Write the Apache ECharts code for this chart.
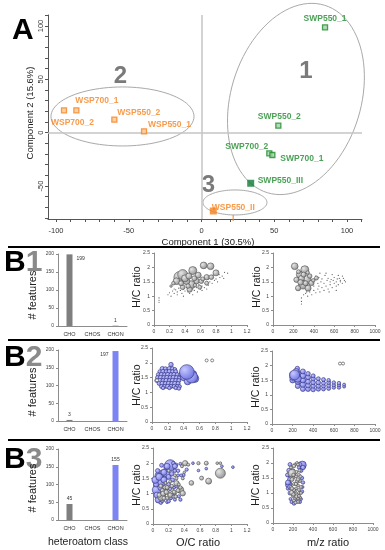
<!DOCTYPE html>
<html><head><meta charset="utf-8">
<script src="https://cdn.jsdelivr.net/npm/echarts@6/dist/echarts.min.js"></script>
<style>html,body{margin:0;padding:0;background:#fff}#c{width:385px;height:550px}</style>
</head><body><div id="c"></div>
<script>
// ================= DATA =================
// Panel A: PCA scores
const pcaNames = ['SWP550_1','SWP550_2','SWP700_2','SWP700_1','SWP550_III','WSP700_2','WSP700_1','WSP550_2','WSP550_1','WSP550_III'];
const pcaPC1 = [84.9, 52.8, 46.6, 48.7, 33.8, -94.5, -86.0, -59.9, -39.5, 8.1];
const pcaPC2 = [98.7, 6.6, -19.3, -20.9, -47.4, 21.0, 21.0, 12.2, 1.3, -73.4];
const pcaGroup = ['SWP','SWP','SWP','SWP','SWP','WSP','WSP','WSP','WSP','WSP'];
const pcaXLabels = [-100, -50, 0, 50, 100];
const pcaYLabels = [-50, 0, 50, 100];
const pcaXTicks = [-100,-90,-80,-70,-60,-50,-40,-30,-20,-10,0,10,20,30,40,50,60,70,80,90,100,110];
const pcaYTicks = [-80,-70,-60,-50,-40,-30,-20,-10,0,10,20,30,40,50,60,70,80,90,100,110];
const clusterIds = ['1', '2', '3'];
const clusterCenters = [[64.9, 31.6], [-54.3, 15.2], [23.0, -65.4]];

// Panel B: heteroatom class counts
const barCats = ['CHO', 'CHOS', 'CHON'];
const b1Counts = [199, 0, 1];
const b2Counts = [3, 0, 197];
const b3Counts = [45, 0, 155];

// B1: CHO features (grey bubbles [x, H/C, intensity]) + minor features (dots)
const b1OcGrey = [[0.33,1.66,113],[0.37,1.75,100],[0.50,1.89,80],[0.64,2.07,67],[0.73,2.04,67],[0.80,1.81,60],[0.68,1.66,53],[0.57,1.73,60],[0.48,1.40,80],[0.42,1.52,67],[0.55,1.52,53],[0.61,1.52,47],[0.74,1.66,47],[0.46,1.23,53],[0.29,1.52,67],[0.37,1.31,47],[0.59,1.31,40],[0.68,1.45,40],[0.40,1.62,70],[0.45,1.70,60],[0.52,1.62,50],[0.35,1.45,50],[0.25,1.45,35],[0.22,1.35,25],[0.63,1.60,40],[0.53,1.38,35],[0.44,1.35,45]];
const b1OcDots = [[0.065,0.94],[0.065,0.86],[0.065,0.79],[0.18,1.05],[0.2,1.12],[0.22,1.0],[0.24,1.18],[0.26,1.1],[0.28,1.22],[0.3,1.15],[0.32,1.28],[0.3,1.05],[0.34,1.2],[0.36,1.1],[0.38,1.25],[0.4,1.18],[0.42,1.3],[0.44,1.15],[0.46,1.1],[0.5,1.25],[0.52,1.2],[0.55,1.3],[0.58,1.4],[0.56,1.15],[0.6,1.25],[0.62,1.35],[0.65,1.3],[0.66,1.45],[0.7,1.38],[0.72,1.5],[0.75,1.45],[0.78,1.55],[0.8,1.6],[0.82,1.5],[0.85,1.65],[0.88,1.7],[0.91,1.83],[0.95,1.8],[0.7,1.6],[0.76,1.72],[0.84,1.75],[0.5,1.05],[0.38,1.0],[0.26,1.25],[0.62,1.2],[0.68,1.25],[0.9,1.62]];
const b1MzGrey = [[213,2.04,67],[312,1.92,80],[262,1.75,67],[328,1.57,93],[295,1.40,87],[246,1.28,53],[377,1.46,53],[344,1.28,60],[426,1.63,40],[230,1.57,53],[280,1.62,60],[300,1.75,50],[360,1.70,45],[270,1.48,55],[320,1.45,50],[395,1.55,35],[250,1.85,40],[340,1.82,35]];
const b1MzDots = [[279,0.94],[279,0.82],[279,0.73],[300,1.05],[320,1.1],[340,1.0],[360,1.15],[380,1.05],[400,1.2],[420,1.12],[440,1.25],[460,1.15],[480,1.3],[500,1.2],[520,1.35],[540,1.25],[560,1.4],[580,1.3],[600,1.45],[620,1.35],[640,1.4],[660,1.5],[680,1.45],[700,1.55],[420,1.7],[450,1.65],[480,1.6],[510,1.72],[540,1.62],[570,1.58],[600,1.65],[630,1.6],[660,1.55],[690,1.62],[470,1.5],[500,1.45],[530,1.55],[560,1.5],[590,1.55],[620,1.5],[650,1.62],[680,1.7],[710,1.5],[440,1.45],[460,1.8],[520,1.8],[580,1.75],[640,1.72],[400,1.35],[360,1.3],[450,1.35],[550,1.15],[620,1.2],[330,1.15]];

// B2: CHON features (blue) + CHO (grey open)
const b2OcBlue = [[0.24,1.94,45],[0.13,1.80,45],[0.17,1.80,40],[0.22,1.80,45],[0.26,1.80,40],[0.29,1.78,35],[0.10,1.70,40],[0.14,1.70,45],[0.18,1.70,40],[0.22,1.70,45],[0.26,1.70,40],[0.30,1.70,40],[0.08,1.60,40],[0.12,1.60,45],[0.16,1.60,40],[0.20,1.60,45],[0.24,1.60,40],[0.28,1.60,45],[0.32,1.60,40],[0.07,1.50,40],[0.11,1.50,45],[0.15,1.50,40],[0.19,1.50,45],[0.23,1.50,40],[0.27,1.50,45],[0.31,1.50,40],[0.35,1.50,40],[0.06,1.40,40],[0.10,1.40,45],[0.14,1.40,40],[0.18,1.40,45],[0.22,1.40,40],[0.26,1.40,45],[0.30,1.40,40],[0.34,1.40,40],[0.09,1.30,40],[0.13,1.30,45],[0.17,1.30,40],[0.21,1.30,45],[0.25,1.30,40],[0.29,1.30,45],[0.33,1.30,40],[0.12,1.20,40],[0.16,1.20,40],[0.20,1.20,45],[0.24,1.20,40],[0.28,1.20,40],[0.32,1.20,40],[0.35,1.20,35],[0.14,1.15,35],[0.22,1.15,35],[0.30,1.15,35],[0.34,1.13,35],[0.38,1.60,60],[0.41,1.52,80],[0.45,1.37,67],[0.52,1.62,70],[0.54,1.47,80],[0.50,1.52,120],[0.44,1.69,147]];
const b2OcGrey = [[0.69,2.08,30],[0.76,2.08,30],[0.063,1.41,30]];
const b2MzBlue = [[700,1.28,30],[700,1.35,30],[650,1.25,35],[650,1.33,35],[650,1.40,35],[600,1.25,35],[600,1.33,35],[600,1.42,35],[550,1.22,40],[550,1.32,40],[550,1.42,40],[550,1.50,35],[500,1.20,40],[500,1.30,40],[500,1.40,40],[500,1.52,40],[450,1.20,45],[450,1.30,45],[450,1.42,45],[450,1.55,40],[400,1.18,45],[400,1.30,45],[400,1.42,45],[400,1.55,45],[400,1.65,40],[350,1.20,50],[350,1.32,50],[350,1.45,50],[350,1.60,50],[350,1.72,45],[300,1.20,50],[300,1.35,55],[300,1.50,55],[300,1.65,55],[300,1.80,50],[250,1.30,50],[250,1.45,55],[250,1.60,60],[250,1.75,55],[246,1.90,45],[200,1.50,55],[200,1.60,60],[200,1.70,60],[235,1.80,60],[250,1.55,70],[220,1.68,100]];
const b2MzGrey = [[660,2.07,30],[690,2.07,30]];

// B3: CHON (blue) and CHO (grey)
const b3OcBlue = [[0.22,1.93,113],[0.09,1.39,120],[0.05,1.12,93],[0.18,1.61,80],[0.07,0.80,67],[0.11,1.93,40],[1.02,1.87,27],[0.88,1.90,27],[0.68,1.82,27],[0.58,1.76,27],[0.43,1.79,33],[0.39,1.61,33],[0.35,0.80,33],[0.33,0.91,33],[0.51,2.0,27],[0.12,1.7,50],[0.15,1.5,45],[0.06,1.6,55],[0.2,1.3,40],[0.25,1.45,40],[0.28,1.75,35],[0.3,1.95,30],[0.35,1.98,30],[0.26,2.0,35],[0.14,1.05,45],[0.1,0.7,35],[0.18,0.72,30],[0.22,1.15,35],[0.27,1.2,30],[0.32,1.6,30],[0.16,1.85,35],[0.04,1.3,50],[0.13,0.95,40],[0.23,0.85,30],[0.03,1.45,70],[0.08,1.55,70],[0.14,1.45,60],[0.1,1.2,60],[0.16,1.15,50],[0.05,0.95,60],[0.12,0.78,45],[0.2,1.55,50],[0.24,1.65,45],[0.18,1.9,60],[0.28,1.9,50],[0.14,1.7,60],[0.32,1.75,35],[0.36,1.6,30],[0.3,1.25,35],[0.25,0.95,35],[0.2,0.75,35],[0.28,0.8,30],[0.06,1.75,45]];
const b3OcGrey = [[0.41,2.0,53],[0.86,1.67,100],[0.71,1.41,60],[0.62,1.51,40],[0.49,1.35,47],[0.35,1.12,67],[0.38,1.01,53],[0.30,1.34,53],[0.58,2.0,33],[0.68,2.0,40],[0.82,2.0,27],[0.86,2.0,27],[0.11,0.9,80],[0.15,1.2,40],[0.2,1.0,40],[0.25,1.1,35],[0.18,0.85,35],[0.12,1.1,40],[0.08,0.95,45],[0.28,1.0,30],[0.22,1.4,30],[0.3,1.5,30],[0.33,1.3,30],[0.2,1.75,30],[0.37,1.9,30],[0.45,1.95,30],[0.26,0.9,30],[0.16,1.35,30],[0.13,1.0,50],[0.17,1.05,45],[0.22,0.95,45],[0.27,1.05,40],[0.32,1.1,40],[0.1,1.25,40],[0.14,0.85,40],[0.24,1.25,35],[0.18,1.2,40],[0.29,0.9,35],[0.35,1.2,35],[0.38,1.5,30],[0.4,1.7,25],[0.28,1.6,30]];
const b3MzBlue = [[293,1.93,80],[158,1.28,67],[170,1.95,40],[160,1.6,45],[280,1.75,40],[290,1.5,35],[290,1.05,35],[210,0.65,35],[170,1.0,40],[165,1.45,40],[200,1.75,35],[280,0.8,30],[270,1.95,40],[150,1.15,35],[230,0.72,30],[260,1.85,35],[175,0.8,30],[150,1.35,50],[160,1.75,45],[170,1.2,45],[145,1.6,40],[300,1.85,45],[300,1.35,35],[295,1.2,30],[185,0.7,30],[270,0.7,30]];
const b3MzGrey = [[192,1.66,80],[192,1.01,53],[242,1.39,40],[200,0.9,30],[220,0.8,30],[240,0.95,30],[260,1.1,30],[230,1.15,30],[210,1.3,30],[250,1.25,30],[270,0.85,30],[200,1.5,30],[230,1.55,30],[260,1.6,30],[180,1.85,30],[220,1.95,30],[240,2.0,30],[280,1.2,30],[210,0.75,30],[250,0.7,30],[180,1.2,30],[270,1.4,30],[220,1.05,30],[250,0.82,30],[260,1.0,30],[235,1.7,30],[190,1.45,40],[210,1.1,35],[230,1.3,35],[250,1.45,35],[275,1.55,30],[190,1.15,35],[205,0.95,35],[235,0.88,35],[260,0.9,30],[280,1.0,30],[210,1.9,35],[205,1.6,35],[265,1.75,30],[250,1.95,30],[225,0.68,30]];

// ================= STYLE / LAYOUT =================
const FONT = '"Liberation Sans", Arial, sans-serif';
const ORANGE = '#F5821F', GREEN = '#1E8B2C', GREENDARK = '#0F7A34';
const GREY_BAR = '#7f7f7f', BLUE_BAR = '#7C84F3';
const labelStyleMap = {
  'SWP550_1': {dx:0, dy:-9, align:'center'},
  'SWP550_2': {dx:1, dy:-9, align:'center'},
  'SWP700_2': {dx:-1, dy:-7, align:'right'},
  'SWP700_1': {dx:8, dy:4, align:'left'},
  'SWP550_III': {dx:7, dy:-3, align:'left'},
  'WSP700_2': {dx:8.5, dy:12, align:'center'},
  'WSP700_1': {dx:-1, dy:-10, align:'left'},
  'WSP550_2': {dx:3, dy:-7, align:'left'},
  'WSP550_1': {dx:4, dy:-7, align:'left'},
  'WSP550_III': {dx:20, dy:2, align:'center', wrapAt:9}
};
const ellipseShapes = [ {rx:65, ry:98, rot:17}, {rx:71.5, ry:29.5, rot:0}, {rx:32, ry:12.5, rot:0} ];

const grids = [
  {left:48, top:15, width:314, height:204},     // A
  {left:58, top:254, width:69, height:72},      // B1 bar
  {left:58, top:350, width:69, height:71},      // B2 bar
  {left:58, top:449, width:69, height:71},      // B3 bar
  {left:154, top:253, width:93, height:72},     // B1 OC
  {left:273, top:253, width:102, height:72},    // B1 MZ
  {left:152, top:348, width:95, height:74},     // B2 OC
  {left:272, top:351, width:103, height:73},    // B2 MZ
  {left:153, top:448, width:94, height:76},     // B3 OC
  {left:273, top:448, width:100, height:75}     // B3 MZ
].map(g => Object.assign({outerBoundsMode:'none', containLabel:false}, g));

const smallAxisCommon = {
  axisLine:{show:true, onZero:false, lineStyle:{color:'#8c8c8c', width:1}},
  axisTick:{show:true, length:2, lineStyle:{color:'#8c8c8c'}},
  splitLine:{show:false},
  axisLabel:{fontSize:5, color:'#444', fontFamily:FONT, margin:4, formatter: v => String(v)}
};
function vAxis(gi, min, max, interval){
  const a = Object.assign({type:'value', gridIndex:gi, min, max, interval}, smallAxisCommon);
  a.axisLabel = Object.assign({}, smallAxisCommon.axisLabel);
  return a;
}

const xAxes = [
  {type:'value', gridIndex:0, min:-105.5, max:110.3,
   axisLine:{show:true, onZero:false, lineStyle:{color:'#555'}},
   axisTick:{show:true, length:3, customValues:pcaXTicks, lineStyle:{color:'#555'}},
   axisLabel:{customValues:pcaXLabels, fontSize:7.5, color:'#333', fontFamily:FONT, margin:8},
   splitLine:{show:false}},
  ...[1,2,3].map(gi => ({type:'category', gridIndex:gi, data:barCats,
     axisLine:{show:true, lineStyle:{color:'#8c8c8c'}}, axisTick:{show:false},
     axisLabel:{fontSize:5.5, color:'#333', fontFamily:FONT, margin:5}})),
  vAxis(4, 0, 1.2, 0.2), vAxis(5, 0, 1000, 200),
  vAxis(6, 0, 1.2, 0.2), vAxis(7, 0, 1000, 200),
  vAxis(8, 0, 1.2, 0.2), vAxis(9, 0, 1000, 200)
];
const yAxes = [
  {type:'value', gridIndex:0, min:-80.9, max:110.3,
   axisLine:{show:true, onZero:false, lineStyle:{color:'#555'}},
   axisTick:{show:true, length:3, customValues:pcaYTicks, lineStyle:{color:'#555'}},
   axisLabel:{customValues:pcaYLabels, fontSize:7.5, color:'#333', fontFamily:FONT, margin:3, rotate:90},
   splitLine:{show:false}},
  vAxis(1, 0, 200, 50), vAxis(2, 0, 200, 50), vAxis(3, 0, 200, 50),
  vAxis(4, 0, 2.5, 0.5), vAxis(5, 0, 2.5, 0.5), vAxis(6, 0, 2.5, 0.5),
  vAxis(7, 0, 2.5, 0.5), vAxis(8, 0, 2.5, 0.5), vAxis(9, 0, 2.5, 0.5)
];

// ---- series
const series = [];
series.push({
  type:'custom', xAxisIndex:0, yAxisIndex:0, clip:false, silent:true, z:1,
  data: clusterCenters,
  renderItem(params, api){
    const e = ellipseShapes[params.dataIndex];
    const c = api.coord([api.value(0), api.value(1)]);
    const r = e.rot * Math.PI / 180, pts = [];
    for (let i = 0; i < 96; i++){
      const t = i / 96 * 2 * Math.PI;
      const x = e.rx * Math.cos(t), y = e.ry * Math.sin(t);
      pts.push([c[0] + x*Math.cos(r) - y*Math.sin(r), c[1] + x*Math.sin(r) + y*Math.cos(r)]);
    }
    return {type:'polygon', shape:{points:pts}, style:{fill:'none', stroke:'#a9a9a9', lineWidth:1}};
  }
});
series.push({
  type:'line', xAxisIndex:0, yAxisIndex:0, data:[], silent:true,
  markLine:{symbol:'none', silent:true, label:{show:false},
    lineStyle:{color:'#c4c4c4', width:1.5, type:'solid'},
    data:[{xAxis:0},{yAxis:0}]}
});
series.push({
  type:'scatter', xAxisIndex:0, yAxisIndex:0, z:5,
  data: pcaNames.map((n,i) => {
    const col = pcaGroup[i] === 'SWP' ? GREEN : ORANGE;
    const solid = /III$/.test(n);
    const ls = labelStyleMap[n];
    return {
      name:n, value:[pcaPC1[i], pcaPC2[i]],
      symbol:'rect', symbolSize: solid ? 7 : 5,
      itemStyle: solid ? {color: pcaGroup[i]==='SWP' ? GREENDARK : ORANGE}
                       : {color: pcaGroup[i]==='SWP' ? '#9fd3a5' : '#fcc58f', borderColor:col, borderWidth:1.3},
      label:{show:true, position:'inside', offset:[ls.dx, ls.dy], align:ls.align, verticalAlign:'middle',
        formatter: ls.wrapAt ? n.slice(0, ls.wrapAt) + '\n' + n.slice(ls.wrapAt) : n,
        color:col, fontSize:8.5, fontWeight:'bold', fontFamily:FONT, lineHeight:11}
    };
  })
});
function barSeries(gi, counts, labelCfg){
  return {
    type:'bar', xAxisIndex:gi, yAxisIndex:gi, barWidth:6,
    data: counts.map((v,i) => ({
      value:v,
      itemStyle:{color: i === 2 ? BLUE_BAR : GREY_BAR},
      label: v > 0 ? Object.assign({show:true, fontSize:5, color:'#333', fontFamily:FONT, distance:3}, labelCfg[i] || {position:'top'}) : {show:false}
    }))
  };
}
series.push(barSeries(1, b1Counts, {0:{position:[10,4.5], align:'left', verticalAlign:'middle'}}));
series.push(barSeries(2, b2Counts, {2:{position:[-4,4], align:'right', verticalAlign:'middle'}}));
series.push(barSeries(3, b3Counts, {}));

const greyFill = new echarts.graphic.RadialGradient(0.35, 0.35, 0.75, [{offset:0, color:'#e6e6e6'}, {offset:1, color:'#8a8a8a'}]);
const blueFill = new echarts.graphic.RadialGradient(0.35, 0.35, 0.75, [{offset:0, color:'#c6c8ff'}, {offset:1, color:'#6a6fe0'}]);
function bubbles(gi, data, kind){
  return {
    type:'scatter', xAxisIndex:gi, yAxisIndex:gi, data,
    symbolSize: d => d[2] / 10,
    itemStyle: kind === 'grey' ? {color:greyFill, borderColor:'#4d4d4d', borderWidth:0.6, opacity:1}
                               : {color:blueFill, borderColor:'#30307a', borderWidth:0.6, opacity:1}
  };
}
function openCircles(gi, data){
  return {type:'scatter', xAxisIndex:gi, yAxisIndex:gi, data, symbolSize: d => d[2]/10,
    itemStyle:{color:'#fff', borderColor:'#666', borderWidth:0.8, opacity:1}};
}
function dots(gi, data){
  return {type:'scatter', xAxisIndex:gi, yAxisIndex:gi, data, symbolSize:1.2,
    itemStyle:{color:'#555', opacity:1}};
}
series.push(dots(4, b1OcDots), bubbles(4, b1OcGrey, 'grey'));
series.push(dots(5, b1MzDots), bubbles(5, b1MzGrey, 'grey'));
series.push(bubbles(6, b2OcBlue, 'blue'), openCircles(6, b2OcGrey));
series.push(bubbles(7, b2MzBlue, 'blue'), openCircles(7, b2MzGrey));
series.push(bubbles(8, b3OcBlue, 'blue'), bubbles(8, b3OcGrey, 'grey'));
series.push(bubbles(9, b3MzBlue, 'blue'), bubbles(9, b3MzGrey, 'grey'));

// ---- graphic annotations & titles
function txt(text, x, y, size){
  return {type:'text', x, y, silent:true, z:100,
    style:{text, fontSize:size, fontFamily:FONT, fill:'#222', align:'center', verticalAlign:'middle'}};
}
function vtxt(text, x, y, size){
  const t = txt(text, x, y, size); t.rotation = Math.PI/2; return t;
}
function panelTag(letter, num, x, y){
  return {type:'text', x, y, silent:true, z:100,
    style:{text:'{b|' + letter + '}{n|' + num + '}', align:'left', verticalAlign:'middle',
      rich:{b:{fontSize:30, fontWeight:'bold', fill:'#000', fontFamily:FONT},
            n:{fontSize:30, fontWeight:'bold', fill:'#8a8a8a', fontFamily:FONT}}}};
}
const sepY = [247, 340, 440];
const graphics = [];
sepY.forEach(y => graphics.push({type:'line', silent:true, shape:{x1:8, y1:y, x2:380, y2:y}, style:{stroke:'#000', lineWidth:2}}));
graphics.push({type:'text', x:12, y:31, silent:true, style:{text:'A', fontSize:30, fontWeight:'bold', fill:'#000', fontFamily:FONT, align:'left', verticalAlign:'middle'}});
const clusterTagPos = [[306,71.5],[120.5,76],[208.5,185]];
clusterIds.forEach((c,i) => graphics.push({type:'text', x:clusterTagPos[i][0], y:clusterTagPos[i][1], silent:true,
  style:{text:c, fontSize:24, fontWeight:'bold', fill:'#7a7a7a', fontFamily:FONT, align:'center', verticalAlign:'middle'}}));
graphics.push(txt('Component 1 (30.5%)', 208, 242, 9.5));
graphics.push(vtxt('Component 2 (15.6%)', 30, 113, 9.5));
graphics.push(panelTag('B', '1', 4, 263), panelTag('B', '2', 4, 358), panelTag('B', '3', 4, 460));
graphics.push(vtxt('# features', 33, 295, 11), vtxt('# features', 33, 392, 11), vtxt('# features', 33, 488, 11));
[[137,287],[257,287],[137,385],[256,387],[137,485],[256,485]].forEach(p => graphics.push(vtxt('H/C ratio', p[0], p[1], 10.5)));
graphics.push(txt('heteroatom class', 88, 542, 10.5), txt('O/C ratio', 198, 543, 11), txt('m/z ratio', 328, 543, 11));

const chart = echarts.init(document.getElementById('c'), null, {renderer:'canvas'});
chart.setOption({
  backgroundColor:'#fff', animation:false,
  grid: grids, xAxis: xAxes, yAxis: yAxes, series,
  graphic:{elements: graphics}
});
</script></body></html>
